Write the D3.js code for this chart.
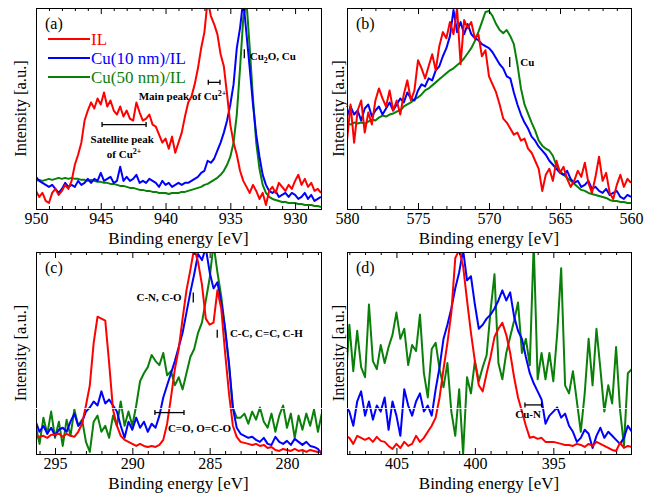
<!DOCTYPE html>
<html>
<head>
<meta charset="utf-8">
<script src="https://cdn.jsdelivr.net/npm/d3@7"></script>
<style>
  body { margin: 0; background: #fff; }
  svg, svg text { font-family: 'Liberation Serif', 'DejaVu Serif', serif; }
</style>
</head>
<body>
<svg id="chart" width="658" height="495"></svg>
<script>
// series names and colours (legend order)
const seriesNames = ['IL', 'Cu(10 nm)/IL', 'Cu(50 nm)/IL'];
const seriesColors = ['#ff0000', '#0000ff', '#0a800a'];

// energy grids of the scans, 0.25 eV step (intensity is in % of panel height)
const energyA = d3.range(950, 927.9, -0.25);
const energyB = d3.range(580, 559.9, -0.25);
const energyC = d3.range(296.25, 277.7, -0.25);
const energyD = d3.range(408.25, 389.9, -0.25);

// (a) Cu 2p
const ilA = [
  9, 6, 8, 4, 3, 8, 10, 7, 9, 12,
  10, 14, 22, 27, 33, 44, 49, 53, 50, 55,
  52, 58, 51, 54, 49, 47, 51, 46, 49, 45,
  44, 53, 48, 44, 45, 47, 42, 41, 37, 33,
  35, 30, 36, 28, 33, 38, 46, 53, 56, 62,
  70, 80, 88, 104, 96, 92, 87, 77, 71, 57,
  42, 33, 27, 19, 14, 11, 8, 12, 9, 5,
  8, 2, 9, 11, 8, 13, 11, 9, 12, 10,
  14, 17, 12, 15, 11, 13, 9, 10, 8];
const cu10A = [
  16, 14, 13, 12, 11, 12, 10, 8, 10, 13,
  11, 12, 11, 14, 12, 13, 15, 13, 15, 14,
  18, 14, 15, 16, 13, 14, 21, 14, 16, 14,
  15, 17, 13, 14, 13, 15, 14, 13, 11, 14,
  12, 13, 11, 12, 13, 12, 13, 13, 14, 15,
  16, 18, 19, 24, 23, 25, 29, 33, 38, 44,
  52, 62, 80, 90, 104, 87, 70, 52, 37, 26,
  17, 12, 9, 8, 9, 6, 7, 8, 6, 8,
  7, 5, 6, 8, 5, 7, 4, 5, 6];
const cu50A = [
  14, 14.5, 14, 14.5, 15, 14.5, 15, 15.5, 15, 15.5,
  15, 15.5, 15, 15, 14.5, 14.5, 14, 14.5, 14, 13.5,
  13.5, 13, 13, 12.5, 12.5, 12, 11.5, 11.5, 11, 10.5,
  10.5, 10, 9.5, 9.5, 9, 9, 8.5, 8.5, 8, 8,
  8, 7.5, 8, 8, 8, 8.5, 8.5, 9, 9.5, 10,
  10.5, 11, 12, 12.5, 13.5, 14.5, 15.5, 17, 19, 22,
  26, 33, 47, 70, 95, 103, 80, 55, 33, 20,
  12, 8, 6, 5, 4.5, 4, 3.5, 3.5, 3, 3,
  3, 2.5, 2.5, 2, 2, 2, 1.5, 1.5, 1];

// (b) Cu LMM
const ilB = [
  34, 52, 33, 49, 54, 38, 48, 42, 54, 60,
  55, 51, 59, 49, 54, 47, 57, 64, 54, 59,
  74, 70, 65, 71, 77, 69, 81, 88, 85, 93,
  87, 100, 72, 94, 90, 93, 85, 87, 76, 79,
  66, 62, 58, 52, 45, 43, 40, 37, 38, 34,
  35, 30, 28, 24, 20, 9, 17, 20, 14, 24,
  18, 21, 15, 11, 14, 19, 16, 23, 13, 8,
  16, 26, 14, 18, 8, 5, 12, 17, 11, 15,
  13];
const cu10B = [
  46, 51, 47, 49, 44, 50, 52, 46, 49, 51,
  47, 50, 53, 49, 52, 55, 53, 58, 55, 54,
  59, 62, 61, 65, 64, 69, 71, 76, 80, 86,
  99, 88, 93, 87, 92, 87, 85, 84, 82, 81,
  80, 78, 75, 72, 70, 66, 65, 58, 52, 47,
  43, 40, 36, 34, 31, 29, 27, 24, 22, 20,
  18, 17, 19, 15, 13, 14, 11, 12, 14, 10,
  11, 9, 8, 10, 7, 8, 9, 6, 5, 7,
  6];
const cu50B = [
  42.5, 42, 43, 42.5, 43, 42.5, 43.5, 44.5, 44, 45.5,
  46.5, 46, 47, 47.5, 48.5, 49, 51, 52, 53, 54.5,
  55.5, 57, 59, 60, 61.5, 63, 64.5, 66, 67.5, 69,
  70, 71.5, 73, 75, 77.5, 80, 83.5, 88, 93, 98,
  98.5, 96, 92, 89, 87.5, 89, 86, 82, 72, 60,
  52, 47.5, 43, 39, 34, 31.5, 30, 29, 26.5, 21.5,
  19, 17, 15.5, 14, 12.5, 11, 9.5, 9, 8, 7.5,
  7, 6.5, 6, 5.5, 4.5, 4, 4, 3.5, 3.5, 3,
  3];

// (c) C 1s
const ilC = [
  8, 8.5, 9, 8, 9.5, 9.5, 10, 8.5, 10, 9,
  8.5, 11, 15, 24, 34, 55, 68, 67, 66, 45,
  22, 14, 9, 7, 6, 5, 4, 5, 4, 3.5,
  4, 3.5, 4.5, 7, 15, 28, 42, 52, 67, 81,
  91, 102, 95, 84, 67, 64, 65, 81, 72, 50,
  30, 14, 8.5, 6, 5.5, 5, 4.5, 5, 4, 4.5,
  3, 3.5, 2, 1.5, 2.5, 2, 1.5, 2.5, 1.5, 2,
  1, 2, 1.5, 1, 1.5];
const cu10C = [
  16, 11, 14, 10, 13, 9, 12, 13, 11, 16,
  20, 14, 16, 21, 23, 26, 24, 31, 25, 27,
  24, 21, 14, 8, 16, 12, 18, 13, 16, 11,
  15, 13, 19, 28, 34, 40, 46, 53, 60, 70,
  80, 89, 99, 96, 102, 90, 82, 85, 75, 62,
  45, 23, 13, 10, 9, 8, 8.5, 7, 6, 8,
  5, 4.5, 8.5, 6, 5, 6.5, 4.5, 7.5, 6, 4.5,
  6, 4, 3.5, 2.5, 0];
const cu50C = [
  14, 5, 18, 10, 21, 8, 16, 4, 17, 9,
  22, 14, 17, 6, 1, 16, 19, 11, 14, 8,
  19, 14, 26, 14, 21, 14, 24, 36, 40, 43,
  49, 46, 44, 50, 39, 41, 34, 38, 32, 40,
  48, 52, 60, 65, 76, 87, 104, 90, 78, 62,
  44, 23, 18, 18, 20, 15, 21, 17, 23, 16,
  13, 20, 11, 19, 24, 13, 20, 8, 19, 12,
  20, 14, 22, 11, 20];

// (d) N 1s
const ilD = [
  9, 8, 5, 9, 8, 7, 8, 6, 8.5, 6.5,
  6, 4, 2.5, 5, 3, 6, 4, 5, 9, 6,
  8, 11, 14, 18, 28, 42, 55, 70, 97, 101,
  93, 76, 60, 46, 34, 31, 40, 48, 58, 62,
  65, 59, 50, 38, 28, 21, 14, 8, 8.5, 7.5,
  8, 6, 6, 6, 5.5, 5, 4.5, 4.5, 4, 5,
  4.5, 3.5, 5, 4, 6, 5, 4, 3, 2, 1.5,
  5.5, 3, 4, 3.5];
const cu10D = [
  24, 21, 14, 26, 31, 19, 26, 17, 24, 21,
  28, 12, 26, 19, 9, 32, 24, 19, 26, 30,
  21, 24, 19, 32, 43, 57, 64, 72, 82, 90,
  101, 86, 88, 74, 62, 64, 67, 69, 72, 76,
  81, 76, 80, 68, 61, 57, 48, 40, 35, 31,
  27, 15, 19, 21, 23, 18, 20, 14, 11, 6,
  8, 12, 10, 3, 9, 13, 8, 11, 9, 7,
  5, 8, 14, 11];
const cu50D = [
  34, 64, 41, 61, 43, 38, 74, 46, 42, 54,
  45, 53, 59, 70, 57, 62, 44, 54, 51, 69,
  40, 28, 52, 55, 42, 33, 45, 21, 9, 32,
  0, 38, 30, 46, 36, 43, 49, 71, 89, 45,
  37, 50, 58, 66, 75, 50, 57, 44, 104, 37,
  50, 37, 50, 36, 60, 92, 34, 30, 41, 26,
  11, 30, 57, 34, 62, 42, 21, 34, 25, 53,
  22, 4, 40, 42];

// tick labels
const ticksA = [950, 945, 940, 935, 930];
const ticksB = [580, 575, 570, 565, 560];
const ticksC = [295, 290, 285, 280];
const ticksD = [405, 400, 395];

const FONT = "'Liberation Serif', 'DejaVu Serif', serif";

const panels = [
  { key: 'a', box: { x: 36, y: 8, w: 285, h: 201 }, domain: [950, 928], ticks: ticksA,
    energy: energyA, series: [ilA, cu10A, cu50A], yLabelX: 26 },
  { key: 'b', box: { x: 347, y: 8, w: 284, h: 201 }, domain: [580, 560], ticks: ticksB,
    energy: energyB, series: [ilB, cu10B, cu50B], yLabelX: 343.5 },
  { key: 'c', box: { x: 36, y: 252, w: 285, h: 202 }, domain: [296.23, 277.8], ticks: ticksC,
    energy: energyC, series: [ilC, cu10C, cu50C], yLabelX: 26 },
  { key: 'd', box: { x: 347, y: 252, w: 284, h: 202 }, domain: [408.15, 390.05], ticks: ticksD,
    energy: energyD, series: [ilD, cu10D, cu50D], yLabelX: 343.5 },
];

const svg = d3.select('#chart').style('font-family', FONT);
const scales = {};

panels.forEach((p) => {
  const { x: bx, y: by, w, h } = p.box;
  const x = d3.scaleLinear().domain(p.domain).range([bx, bx + w]);
  const y = d3.scaleLinear().domain([0, 100]).range([by + h, by]);
  scales[p.key] = { x, y };

  svg.append('clipPath').attr('id', `clip-${p.key}`)
    .append('rect').attr('x', bx).attr('y', by).attr('width', w).attr('height', h);

  // traces, green first so red ends on top
  const line = d3.line().x((d) => x(d[0])).y((d) => y(d[1]));
  const traces = svg.append('g').attr('clip-path', `url(#clip-${p.key})`);
  [2, 1, 0].forEach((i) => {
    traces.append('path')
      .datum(d3.zip(p.energy, p.series[i]))
      .attr('fill', 'none')
      .attr('stroke', seriesColors[i])
      .attr('stroke-width', 2)
      .attr('stroke-linejoin', 'round')
      .attr('d', line);
  });

  // minor ticks every 1 eV
  const lo = Math.min(...p.domain);
  const hi = Math.max(...p.domain);
  const minor = d3.range(Math.ceil(lo), Math.floor(hi) + 1).filter((v) => v % 5 !== 0);

  const styleAxis = (g) => {
    g.select('.domain').remove();
    g.selectAll('line').attr('stroke', '#000');
    g.attr('font-size', 16).attr('font-family', null);
    g.selectAll('text').style('font-family', FONT);
  };

  svg.append('g').attr('transform', `translate(0,${by + h})`)
    .call(d3.axisBottom(x).tickValues(p.ticks).tickSizeInner(-6).tickSizeOuter(0).tickPadding(4)
      .tickFormat(d3.format('d')))
    .call(styleAxis);
  svg.append('g').attr('transform', `translate(0,${by + h})`)
    .call(d3.axisBottom(x).tickValues(minor).tickSizeInner(-3).tickSizeOuter(0).tickFormat(''))
    .call(styleAxis);
  svg.append('g').attr('transform', `translate(0,${by})`)
    .call(d3.axisTop(x).tickValues(p.ticks).tickSizeInner(-6).tickSizeOuter(0).tickFormat(''))
    .call(styleAxis);
  svg.append('g').attr('transform', `translate(0,${by})`)
    .call(d3.axisTop(x).tickValues(minor).tickSizeInner(-3).tickSizeOuter(0).tickFormat(''))
    .call(styleAxis);

  // frame
  svg.append('rect')
    .attr('x', bx + 0.5).attr('y', by + 0.5).attr('width', w).attr('height', h)
    .attr('fill', 'none').attr('stroke', '#000').attr('stroke-width', 1);

  // axis titles
  svg.append('text')
    .attr('x', bx + w / 2).attr('y', by + h + 35)
    .attr('text-anchor', 'middle').attr('font-size', 17)
    .text('Binding energy [eV]');
  svg.append('text')
    .attr('transform', `translate(${p.yLabelX},${by + h / 2}) rotate(-90)`)
    .attr('text-anchor', 'middle').attr('font-size', 16.5)
    .text('Intensity [a.u.]');

  svg.append('text')
    .attr('x', bx + 9).attr('y', by + 21)
    .attr('font-size', 16)
    .text(`(${p.key})`);
});

// white scan-line artefact across the lower panels
svg.append('line')
  .attr('x1', 36).attr('x2', 631).attr('y1', 408.5).attr('y2', 408.5)
  .attr('stroke', '#fff').attr('stroke-width', 1).attr('opacity', 0.85);

// legend in panel (a)
const legend = svg.append('g');
seriesNames.forEach((name, i) => {
  const ly = 39 + i * 19;
  legend.append('line')
    .attr('x1', 48).attr('x2', 90).attr('y1', ly).attr('y2', ly)
    .attr('stroke', seriesColors[i]).attr('stroke-width', 2);
  legend.append('text')
    .attr('x', 91).attr('y', ly + 6)
    .attr('font-size', 17).attr('fill', seriesColors[i])
    .text(name);
});

// annotation helpers
function bar(key, e, v0, v1) {
  const { x, y } = scales[key];
  svg.append('line')
    .attr('x1', x(e)).attr('x2', x(e)).attr('y1', y(v0)).attr('y2', y(v1))
    .attr('stroke', '#000').attr('stroke-width', 1.3);
}
function bracket(key, e0, e1, v) {
  const { x, y } = scales[key];
  const g = svg.append('g').attr('stroke', '#000').attr('stroke-width', 1.3);
  g.append('line').attr('x1', x(e0)).attr('x2', x(e1)).attr('y1', y(v)).attr('y2', y(v));
  [e0, e1].forEach((e) => {
    g.append('line').attr('x1', x(e)).attr('x2', x(e)).attr('y1', y(v) - 2.5).attr('y2', y(v) + 2.5);
  });
}
// bold note; optional small part shifted by dy (superscript < 0, subscript > 0)
function note(key, e, v, anchor, base, small, shift, tail) {
  const { x, y } = scales[key];
  const t = svg.append('text')
    .attr('x', x(e)).attr('y', y(v))
    .attr('text-anchor', anchor)
    .attr('font-size', 11).attr('font-weight', 'bold');
  t.append('tspan').text(base);
  if (small) t.append('tspan').text(small).attr('font-size', 8).attr('dy', shift);
  if (tail) t.append('tspan').text(tail).attr('dy', -shift);
  return t;
}

// (a)
bar('a', 933.92, 75, 79.5);
note('a', 933.5, 74, 'start', 'Cu', '2', 3, 'O, Cu');
bracket('a', 936.7, 935.8, 63);
note('a', 935.3, 54, 'end', 'Main peak of Cu', '2+', -4);
bracket('a', 944.9, 941.5, 42);
note('a', 943.35, 33, 'middle', 'Satellite peak');
note('a', 943.2, 25.5, 'middle', 'of Cu', '2+', -4);

// (b)
bar('b', 568.54, 70.6, 75.6);
note('b', 567.8, 71, 'start', 'Cu');

// (c)
note('c', 286.81, 75.5, 'end', 'C-N, C-O');
bar('c', 286.06, 75, 80);
bar('c', 284.51, 57.5, 61.5);
note('c', 283.69, 57.7, 'start', 'C-C, C=C, C-H');
bracket('c', 288.54, 286.66, 20.5);
note('c', 287.7, 11, 'start', 'C=O, O=C-O');

// (d)
bracket('d', 396.81, 395.75, 24.3);
note('d', 397.43, 17.7, 'start', 'Cu-N');
</script>
</body>
</html>
